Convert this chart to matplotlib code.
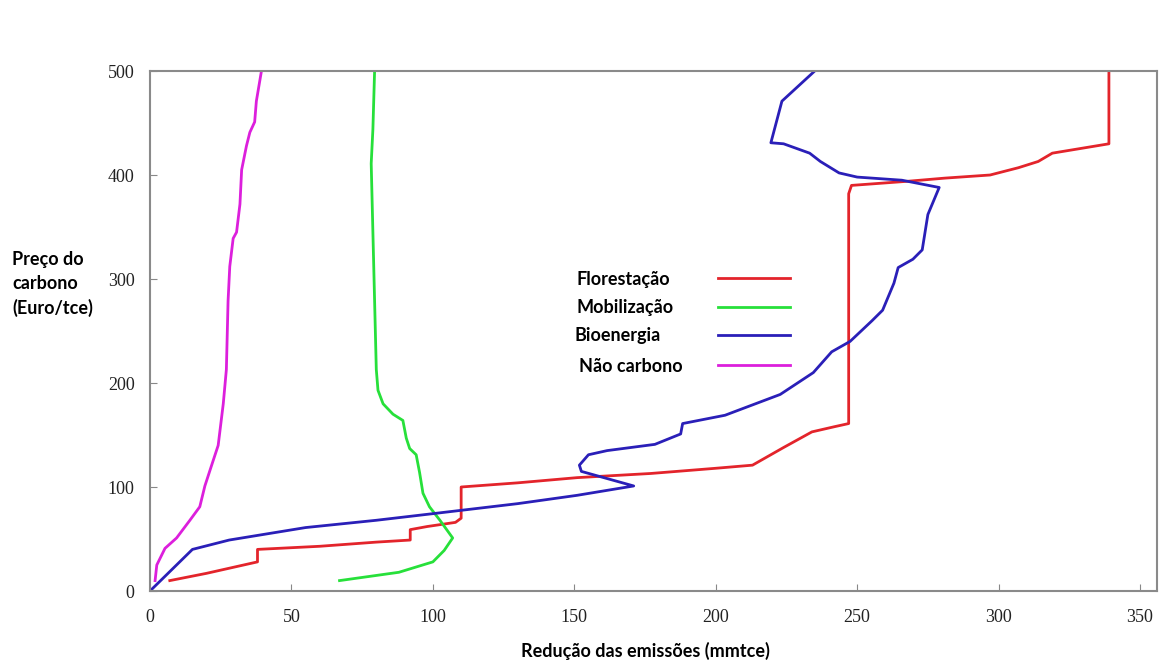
import matplotlib
matplotlib.use("Agg")
import matplotlib.pyplot as plt
from matplotlib.lines import Line2D

# emission reduction (mmtce) vs carbon price (Euro/tce)
flor_x = [7, 20, 38, 38, 60, 80, 92, 92, 98, 108, 110, 110, 130, 151, 177, 200, 213,
          224, 234, 242, 247, 247, 248, 268, 281, 297, 307, 314, 319, 339, 339]
flor_y = [10, 17, 28, 40, 43, 47, 49, 59, 62, 66, 70, 100, 104, 109, 113, 118, 121,
          138, 153, 158, 161, 382, 390, 394, 397, 400, 407, 413, 421, 430, 500]

mob_x = [67, 88, 100, 104, 107, 102.5, 98.8, 96.5, 95.3, 94.1, 91.8, 90.6, 89.4, 85.9,
         82.4, 80.6, 80, 79.4, 78.8, 78.2, 78.8, 79.4]
mob_y = [10, 18, 28, 39, 51, 68, 81, 94, 114, 131, 137, 147, 164, 170,
         180, 193, 213, 279, 345, 411, 444, 500]

bio_x = [0, 15, 28, 55, 80, 102, 130, 151, 171, 152.5, 151.8, 155, 161.6, 178.5, 187.6,
         188.3, 203.3, 222.8, 234.5, 241, 247.5, 255.3, 259, 263, 264.5, 269.7, 273, 275,
         279, 265.8, 250, 243.6, 237, 233.2, 224, 219.5, 223.4, 235]
bio_y = [0, 40, 49, 61, 68, 75, 84, 92, 101, 115, 121, 131, 135, 141, 151,
         161, 169, 189, 210, 230, 240, 260, 270, 296, 311, 319, 328, 362,
         388, 395, 398, 402, 413, 421, 430, 431, 471, 500]

nc_x = [1.8, 2.4, 5.3, 9.4, 14.1, 17.6, 19.4, 21.8, 24.1, 25.9, 27, 27.6, 28.2, 29.4,
        30.6, 31.8, 32.4, 34.1, 35.3, 37, 37.6, 39.4]
nc_y = [10, 25, 41, 51, 68, 81, 101, 121, 140, 180, 213, 279, 312, 339,
        345, 372, 405, 428, 441, 451, 471, 500]

series = ["Florestação", "Mobilização", "Bioenergia", "Não carbono"]
colors = ["#e3242b", "#27e03a", "#2a1fb8", "#dc1fdc"]

fig = plt.figure(figsize=(11.64, 6.6), dpi=100)
ax = fig.add_axes([150 / 1164, 69 / 660, 1007 / 1164, 520 / 660])

lw = 2.0
ax.plot(flor_x, flor_y, color=colors[0], lw=lw)
ax.plot(mob_x, mob_y, color=colors[1], lw=lw)
ax.plot(bio_x, bio_y, color=colors[2], lw=lw)
ax.plot(nc_x, nc_y, color=colors[3], lw=lw)

ax.set_xlim(0, 356)
ax.set_ylim(0, 500)
ax.set_xticks(range(0, 351, 50))
ax.set_yticks(range(0, 501, 100))
ax.tick_params(direction="in", length=5, color="#888888", labelsize=13,
               labelcolor="#222222")
ax.tick_params(axis="x", pad=13)
ax.tick_params(axis="y", pad=11)
for lab in ax.get_xticklabels() + ax.get_yticklabels():
    lab.set_family("Liberation Serif")
for s in ax.spines.values():
    s.set_color("#8a8a8a")
    s.set_linewidth(1.5)

# axis titles
fig.text(12 / 1164, 1 - 284 / 660, "Preço do\ncarbono\n(Euro/tce)", ha="left", va="center",
         fontsize=13, fontweight="bold", family="Lato", linespacing=1.5)
fig.text(645 / 1164, 1 - 651 / 660, "Redução das emissões (mmtce)", ha="center",
         va="center", fontsize=13, fontweight="bold", family="Lato")

# legend, text on the left and line on the right
rows_y = [279, 308, 336, 366]
text_x = [577, 577, 575, 579]
for name, c, py, px in zip(series, colors, rows_y, text_x):
    fig.text(px / 1164, 1 - py / 660, name, ha="left", va="center",
             fontsize=13, fontweight="bold", family="Lato")
    fig.add_artist(Line2D([718 / 1164, 790 / 1164], [1 - (py - 1) / 660] * 2,
                          color=c, lw=2.0, transform=fig.transFigure))

fig.savefig("out.png", dpi=100, facecolor="white")
